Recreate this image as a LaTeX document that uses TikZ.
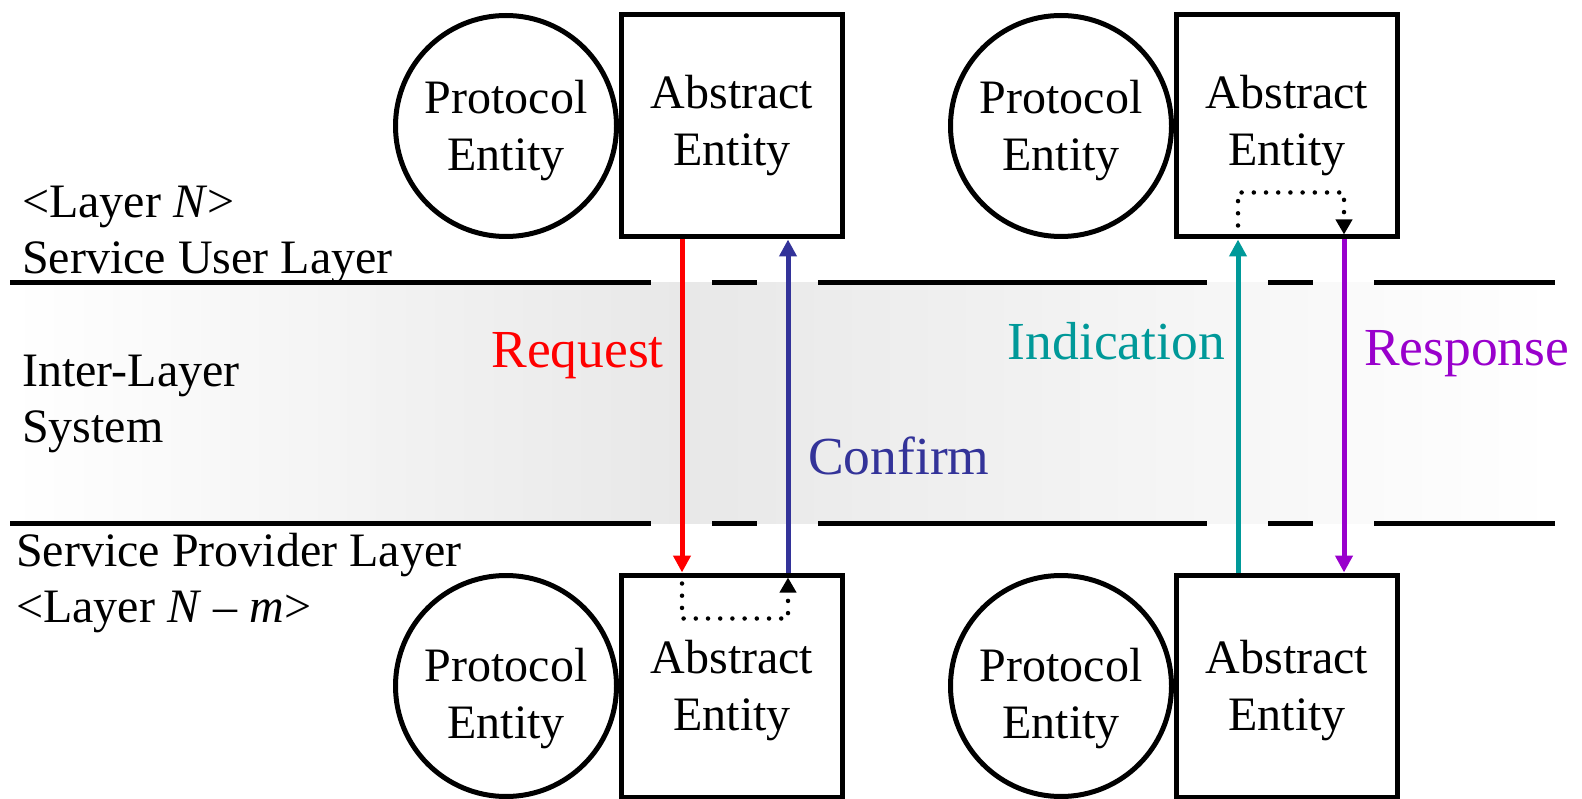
\documentclass[tikz,border=0pt]{standalone}
\usepackage{fontspec}
\setmainfont{Liberation Serif}
\usetikzlibrary{positioning, calc, arrows.meta}
\definecolor{reqRed}{RGB}{255,0,0}
\definecolor{confBlue}{RGB}{51,51,153}
\definecolor{indTeal}{RGB}{0,153,153}
\definecolor{respPurple}{RGB}{153,0,204}
\definecolor{bandGray}{gray}{0.91}
\tikzstyle{pCircle} = [circle, draw=black, line width=5pt, minimum size=221pt, inner sep=0pt, align=center, font=\fontsize{48}{57}\selectfont]
\tikzstyle{absRect} = [rectangle, draw=black, line width=5pt, minimum width=221pt, minimum height=222pt, inner sep=0pt, align=center, font=\fontsize{48}{57}\selectfont]
\tikzstyle{blank} = [rectangle, inner sep=0pt, align=left, font=\fontsize{48}{56}\selectfont]
\tikzstyle{lbl} = [rectangle, inner sep=0pt, font=\fontsize{53.5}{60}\selectfont]
\tikzstyle{layerLine} = [line width=5pt, black]
\tikzstyle{arrow} = [line width=5pt, -{Triangle[width=17pt,length=17pt]}]
\tikzstyle{dotArrow} = [line width=4.5pt, line cap=round, dash pattern=on 0pt off 12.2pt, -{Triangle[width=16pt,length=15pt]}]
% strut on the first line pushes the two lines down inside the shape
\newcommand{\lowerby}[1]{\rule{0pt}{#1pt}}

\begin{document}
\begin{tikzpicture}[x=1pt, y=-1pt]
        \useasboundingbox (0,0) rectangle (1582,799);
        % inter-layer band
        \fill[left color=white, right color=bandGray] (10,283) rectangle (682,523);
        \fill[left color=bandGray, right color=white] (682,283) rectangle (1555,523);
        \foreach \y in {283,523}
        {\foreach \a/\b in {10/651, 712/757, 818/1207, 1268/1313, 1374/1555}
        {\draw[layerLine] (\a,\y) -- (\b,\y);}}

        \foreach \n/\x/\y/\ps/\as in {u1/506/126/43/33, u2/1061/126/43/33, l1/506/686/59/43, l2/1061/686/59/43}
        {\node[pCircle] (p\n) at (\x,\y) {\lowerby{\ps}Protocol\\Entity};
        \node[absRect, right=0pt of p\n] (a\n) {\lowerby{\as}Abstract\\Entity};}

        \node[blank, anchor=base west] (lyrN) at (22,274) {<Layer \textit{N}>\\Service User Layer};
        \node[blank, anchor=base west] (ils) at (22,442) {Inter-Layer\\System};
        \node[blank, anchor=base west] (lyrNm) at (16,622) {Service Provider Layer\\<Layer \textit{N} -- \textit{m}>};

        \coordinate (req) at (682,0);
        \coordinate (conf) at (788,0);
        \coordinate (ind) at (1238,0);
        \coordinate (resp) at (1344,0);

        \draw[arrow, reqRed] (au1.south -| req) -- (al1.north -| req);
        \draw[arrow, confBlue] (al1.north -| conf) -- (au1.south -| conf);
        \draw[arrow, indTeal] (al2.north -| ind) -- (au2.south -| ind);
        \draw[arrow, respPurple] (au2.south -| resp) -- (al2.north -| resp);
        \draw[dotArrow] ($(al1.north -| req)+(0,11)$) -- ++(0,35) -| ($(al1.north -| conf)+(0,5)$);
        \draw[dotArrow] ($(au2.south -| ind)+(0,-14)$) -- ++(0,-33) -| ($(au2.south -| resp)+(0,-5)$);

        \node[lbl, text=reqRed, anchor=base east] (reqL) at (664,367) {Request};
        \node[lbl, text=confBlue, anchor=base west] (confL) at (808,474) {Confirm};
        \node[lbl, text=indTeal, anchor=base east] (indL) at (1225,360) {Indication};
        \node[lbl, text=respPurple, anchor=base west] (respL) at (1364,366) {Response};
\end{tikzpicture}
\end{document}
